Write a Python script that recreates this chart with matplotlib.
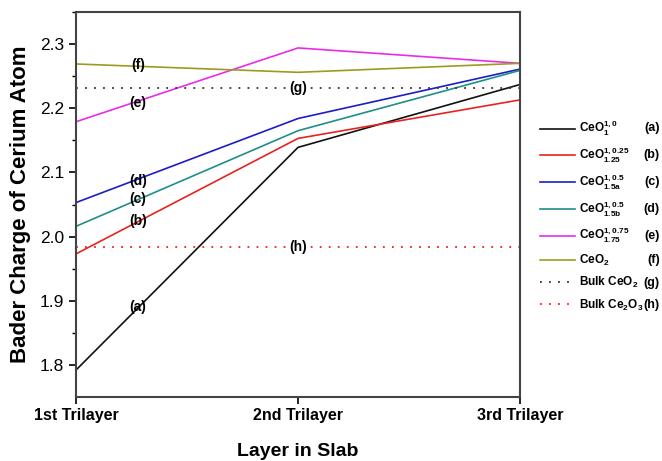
import matplotlib
matplotlib.use("Agg")
import matplotlib.pyplot as plt

plt.rcParams['font.family'] = ['Liberation Sans', 'DejaVu Sans']
plt.rcParams['mathtext.fontset'] = 'custom'
plt.rcParams['mathtext.rm'] = 'Liberation Sans:bold'
plt.rcParams['mathtext.it'] = 'Liberation Sans:bold'
plt.rcParams['mathtext.bf'] = 'Liberation Sans:bold'

layers = ["1st Trilayer", "2nd Trilayer", "3rd Trilayer"]
ser_a = [1.792, 2.139, 2.237]
ser_b = [1.973, 2.153, 2.213]
ser_c = [2.053, 2.184, 2.261]
ser_d = [2.016, 2.165, 2.259]
ser_e = [2.179, 2.294, 2.270]
ser_f = [2.269, 2.256, 2.270]
bulk_ceo2 = 2.232
bulk_ce2o3 = 1.984

series = [ser_a, ser_b, ser_c, ser_d, ser_e, ser_f]
colors = ['#111111', '#e8231f', '#1c1cc8', '#1e8f88', '#ea2cea', '#9b9b22']
legend_labels = [r'CeO$_{1}^{1,0}$', r'CeO$_{1.25}^{1,0.25}$', r'CeO$_{1.5a}^{1,0.5}$',
                 r'CeO$_{1.5b}^{1,0.5}$', r'CeO$_{1.75}^{1,0.75}$', r'CeO$_{2}$',
                 r'Bulk CeO$_{2}$', r'Bulk Ce$_{2}$O$_{3}$']
tags = ['(a)', '(b)', '(c)', '(d)', '(e)', '(f)', '(g)', '(h)']

fig = plt.figure(figsize=(6.62, 4.61), dpi=100)
ax = fig.add_axes([76/662, 1-397/461, 444/662, 385/461])

x = list(range(len(layers)))
handles = []
for s, c in zip(series, colors):
    h, = ax.plot(x, s, color=c, lw=1.2)
    handles.append(h)
hg = ax.axhline(bulk_ceo2, color='#333333', lw=1.3, ls=(0, (1, 4)))
hh = ax.axhline(bulk_ce2o3, color='#e8231f', lw=1.3, ls=(0, (1, 4)))
handles += [hg, hh]

ax.set_xlim(0, 2)
ax.set_ylim(1.75, 2.35)
ax.set_xticks(x)
ax.set_xticklabels(layers, fontsize=11.5, fontweight='bold')
ax.set_yticks([1.8, 1.9, 2.0, 2.1, 2.2, 2.3])
ax.set_yticks([1.85, 1.95, 2.05, 2.15, 2.25, 2.35], minor=True)
ax.tick_params(axis='y', labelsize=12.5, length=5, width=1.2, direction='out')
ax.tick_params(axis='y', which='minor', length=3, width=1.0)
ax.tick_params(axis='x', length=5, width=1.2, direction='out', pad=3)
for sp in ax.spines.values():
    sp.set_linewidth(1.5)
    sp.set_color('#444444')

ax.set_ylabel('Bader Charge of Cerium Atom', fontsize=16, fontweight='bold', labelpad=6)
ax.set_xlabel('Layer in Slab', fontsize=14, fontweight='bold', labelpad=14)

# in-plot tags
tag_pos = [(0.28, 1.890, '(a)'), (0.28, 2.024, '(b)'), (0.28, 2.059, '(c)'),
           (0.28, 2.087, '(d)'), (0.28, 2.208, '(e)'), (0.28, 2.267, '(f)')]
for tx, ty, tt in tag_pos:
    ax.text(tx, ty, tt, fontsize=10, fontweight='bold', ha='center', va='center')
for ty, tt in [(bulk_ceo2, '(g)'), (bulk_ce2o3, '(h)')]:
    ax.text(1.0, ty, tt, fontsize=10, fontweight='bold', ha='center', va='center',
            bbox=dict(facecolor='white', edgecolor='none', pad=1.5))

leg = fig.legend(handles, legend_labels, loc='upper left',
                 bbox_to_anchor=(535/662, 1-114/461), frameon=False,
                 fontsize=8.5, handlelength=3.0, handletextpad=0.3,
                 labelspacing=0.62, borderaxespad=0)
for t in leg.get_texts():
    t.set_fontweight('bold')

fig.canvas.draw()
inv = fig.transFigure.inverted()
for t, tag in zip(leg.get_texts(), tags):
    bb = t.get_window_extent()
    yc = (bb.y0 + bb.y1) / 2
    _, yf = inv.transform((0, yc))
    fig.text(660/662, yf, tag, fontsize=9, fontweight='bold', ha='right', va='center')

fig.savefig('out.png', dpi=100)
